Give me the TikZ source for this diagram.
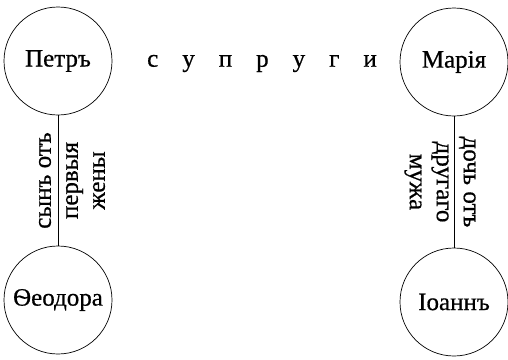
\documentclass[tikz,border=0pt]{standalone}
\usepackage{fontspec}
\setmainfont{Liberation Serif}
\newfontfamily\printface[FakeBold=0.6]{Liberation Serif}
\usetikzlibrary{calc}

\newcommand{\gap}{\hspace{24pt}}

\begin{document}
\begin{tikzpicture}[
    x=1pt, y=-1pt,
    person/.style={circle, draw, line width=0.7pt, minimum size=108pt,
        inner sep=0pt, font=\printface\fontsize{25}{27}\selectfont},
    relation/.style={align=center, inner sep=0pt,
        font=\printface\fontsize{25}{27}\selectfont},
    link/.style={line width=0.7pt}
]
    \useasboundingbox (0,0) rectangle (508,359);

    \node[person] (petr) at (58,61) {Петръ};
    \node[person] (maria) at (454,62) {Марія};
    \node[person] (feodora) at (58,300) {Ѳеодора};
    \node[person] (ioann) at (454,302) {Іоаннъ};

    \node[relation] (spouses) at ($(petr)!0.5!(maria) + (6,2)$)
        {с\gap у\gap п\gap р\gap у\gap г\gap и};

    \draw[link] (petr) -- (feodora);
    \draw[link] (maria) -- (ioann);

    \node[relation, rotate=90] (sonof) at ($(petr)!0.5!(feodora) + (14,0)$)
        {сынъ отъ\\первыя\\жены};
    \node[relation, rotate=-90] (daughterof) at ($(maria)!0.5!(ioann) + (-14,0)$)
        {дочь отъ\\другаго\\мужа};
\end{tikzpicture}
\end{document}
